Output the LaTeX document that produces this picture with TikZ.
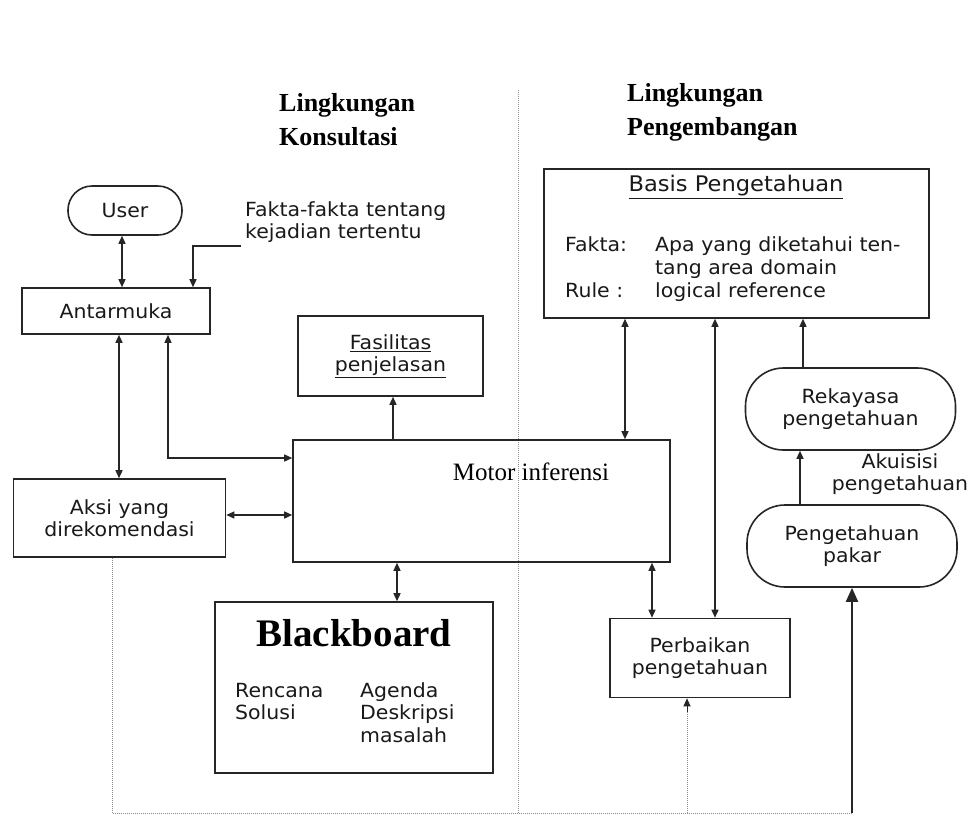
\documentclass[tikz,border=0pt]{standalone}
\usepackage{fontspec}
\setmainfont{Liberation Serif}
\setsansfont[FakeStretch=1.05]{DejaVu Sans}
\usetikzlibrary{arrows.meta}
\newcommand{\mylines}[1]{\begin{tabular}[t]{@{}l@{}}#1\end{tabular}}
\begin{document}
\begin{tikzpicture}[x=1pt,y=-1pt,
  >={Triangle[length=8pt,width=7pt]},
  box/.style={draw=black!85,line width=1.6pt,inner sep=0pt,align=center,text=black!90,font=\sffamily\fontsize{19.5}{22.5}\selectfont},
  pill/.style={box,rounded corners=#1},
  conn/.style={line width=1.4pt,draw=black!85},
  fb/.style={line width=1pt,draw=black!45,densely dotted},
  lbl/.style={inner sep=0pt,text=black!90,font=\sffamily\fontsize{19.5}{22.5}\selectfont},
  head/.style={inner sep=0pt,font=\bfseries\fontsize{26}{34}\selectfont},
]
\useasboundingbox (0,0) rectangle (971,817);
\fill[white] (0,0) rectangle (971,817);

% divider
\coordinate (dtop) at (518,90);
\coordinate (dbot) at (518,813);
\draw[fb] (dtop) -- (dbot);

% headings
\node[head,anchor=base west] (h1) at (279,111) {\mylines{Lingkungan\\Konsultasi}};
\node[head,anchor=base west] (h2) at (627,101) {\mylines{Lingkungan\\Pengembangan}};

% left side
\node[pill=24pt,minimum width=114pt,minimum height=49pt] (user) at (125,210.5) {User};
\node[lbl,anchor=base west] (fakta) at (245,216) {\mylines{Fakta-fakta tentang\\kejadian tertentu}};
\coordinate (fk) at (241,246);
\node[box,minimum width=188pt,minimum height=46pt] (ant) at (116,311) {Antarmuka};
\node[box,minimum width=212pt,minimum height=78pt] (aksi) at (119.5,518) {Aksi yang\\direkomendasi};
\node[box,minimum width=185pt,minimum height=80pt] (fas) at (390.5,356) {\underline{Fasilitas}\\\underline{penjelasan}};
\node[box,minimum width=377pt,minimum height=122pt] (motor) at (481.5,501) {};
\node[inner sep=0pt,font=\fontsize{25}{28}\selectfont] (motortxt) at (531,472) {Motor inferensi};
\node[box,minimum width=278pt,minimum height=171pt] (bb) at (354,687.5) {};
\node[inner sep=0pt,font=\bfseries\fontsize{39}{42}\selectfont] (bbt) at (354,633) {Blackboard};
\node[lbl,anchor=base west] (bb1) at (235,697) {\mylines{Rencana\\Solusi}};
\node[lbl,anchor=base west] (bb2) at (360,697) {\mylines{Agenda\\Deskripsi\\masalah}};

% right side
\node[box,minimum width=385pt,minimum height=149pt] (basis) at (736.5,243.5) {};
\node[inner sep=0pt,text=black!90,font=\sffamily\fontsize{21.5}{24}\selectfont] (bt) at (736,187) {\underline{Basis Pengetahuan}};
\node[lbl,anchor=base west,font=\sffamily\fontsize{19.5}{23}\selectfont] (bfak) at (565,251) {\begin{tabular}[t]{@{}p{90pt}@{}l@{}}Fakta: & Apa yang diketahui ten-\\ & tang area domain\\ Rule : & logical reference\end{tabular}};
\node[pill=38pt,minimum width=210pt,minimum height=82pt] (rek) at (850.5,409) {Rekayasa\\pengetahuan};
\node[lbl,align=center] (aku) at (900,474) {Akuisisi\\pengetahuan};
\node[pill=38pt,minimum width=210pt,minimum height=82pt] (pakar) at (852,546) {Pengetahuan\\pakar};
\node[box,minimum width=180pt,minimum height=79pt] (perb) at (700,658) {Perbaikan\\pengetahuan};

% connectors
\draw[conn,<->] (user.south -| 122,0) -- (ant.north -| 122,0);
\draw[conn,->] (fk) -| (ant.north -| 193,0);
\draw[conn,<->] (ant.south -| 119,0) -- (aksi.north -| 119,0);
\draw[conn,<->] (ant.south -| 168,0) |- (motor.west |- 0,458);
\draw[conn,<->] (aksi.east |- 0,515) -- (motor.west |- 0,515);
\draw[conn,->] (motor.north -| 393,0) -- (fas.south -| 393,0);
\draw[conn,<->] (motor.south -| 397,0) -- (bb.north -| 397,0);
\draw[conn,<->] (basis.south -| 625,0) -- (motor.north -| 625,0);
\draw[conn,<->] (basis.south -| 715,0) -- (perb.north -| 715,0);
\draw[conn,<->] (motor.south -| 652,0) -- (perb.north -| 652,0);
\draw[conn,->] (rek.north -| 803,0) -- (basis.south -| 803,0);
\draw[conn,->] (pakar.north -| 800,0) -- (rek.south -| 800,0);

% feedback
\coordinate (fbl) at (112,813);
\coordinate (fbr) at (852,813);
\coordinate (fbp) at (687,813);
\coordinate (fbq) at (687,712);
\draw[fb] (aksi.south -| fbl) -- (fbl) -- (fbr);
\draw[fb] (fbp) -- (fbq);
\draw[line width=1pt,draw=black!85,->] (fbq) -- (perb.south -| fbp);
\draw[line width=2pt,draw=black!85,-{Triangle[length=14pt,width=12pt]}] (fbr) -- (pakar.south -| fbr);
\end{tikzpicture}
\end{document}
